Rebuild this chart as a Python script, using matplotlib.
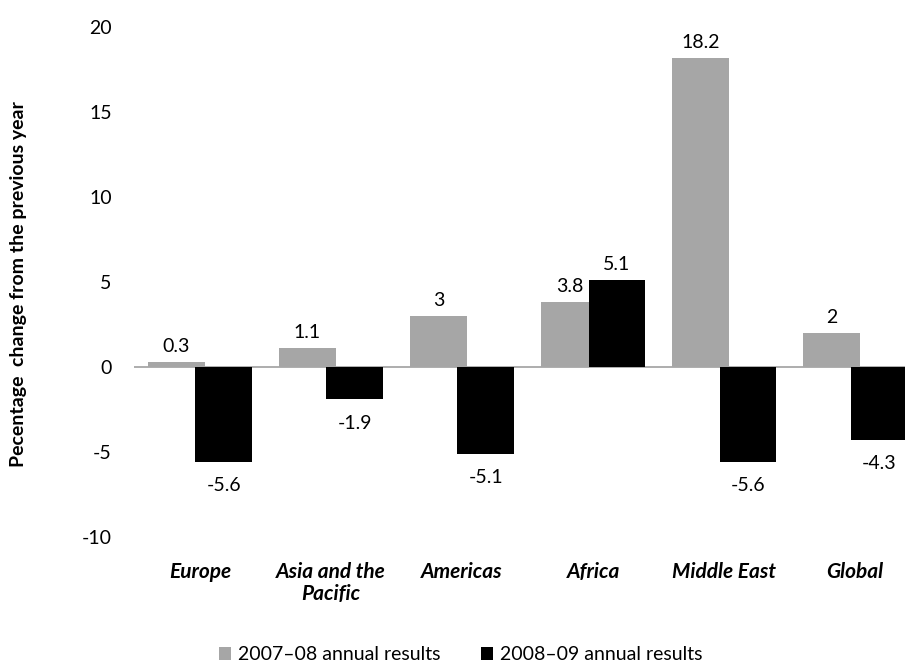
import matplotlib
matplotlib.use("Agg")
import matplotlib.pyplot as plt
from matplotlib.patches import Patch
import numpy as np

plt.rcParams['font.family'] = ['Lato', 'DejaVu Sans']

regions = ["Europe", "Asia and the\nPacific", "Americas", "Africa", "Middle East", "Global"]
series_names = ["2007\u201308 annual results", "2008\u201309 annual results"]
results_0708 = [0.3, 1.1, 3, 3.8, 18.2, 2]
results_0809 = [-5.6, -1.9, -5.1, 5.1, -5.6, -4.3]
value_labels_0708 = ["0.3", "1.1", "3", "3.8", "18.2", "2"]
value_labels_0809 = ["-5.6", "-1.9", "-5.1", "5.1", "-5.6", "-4.3"]
y_ticks = [-10, -5, 0, 5, 10, 15, 20]

grey = "#A6A6A6"
black = "#000000"

fig = plt.figure(figsize=(9.05, 6.62), dpi=100)
ax = fig.add_axes([0.148, 0.1888, 0.852, 0.7704])

x = np.arange(len(regions))
width = 0.43
offset = 0.18

bars1 = ax.bar(x - offset, results_0708, width, color=grey, zorder=2)
bars2 = ax.bar(x + offset, results_0809, width, color=black, zorder=3)

ax.axhline(0, color="#A0A0A0", lw=1.2, zorder=1)

def label(bars, texts):
    for b, t in zip(bars, texts):
        h = b.get_height()
        cx = b.get_x() + b.get_width() / 2
        if h >= 0:
            ax.annotate(t, (cx, h), xytext=(0, 5), textcoords="offset points",
                        ha="center", va="bottom", fontsize=14)
        else:
            ax.annotate(t, (cx, h), xytext=(0, -11), textcoords="offset points",
                        ha="center", va="top", fontsize=14)

label(bars1, value_labels_0708)
label(bars2, value_labels_0809)

ax.set_xlim(-0.504, 5.38)
ax.set_ylim(-10, 20)
ax.set_yticks(y_ticks)
ax.set_yticklabels([str(v) for v in y_ticks], fontsize=14)
ax.set_xticks(x)
ax.set_xticklabels(regions, fontsize=15, fontweight="bold", style="italic",
                   linespacing=1.15, va="top")
ax.tick_params(axis="y", length=0, pad=16)
ax.tick_params(axis="x", length=0, pad=18)
for s in ax.spines.values():
    s.set_visible(False)

fig.text(0.02, 0.571, "Pecentage  change from the previous year", rotation=90,
         fontsize=14, fontweight="bold", ha="center", va="center")

handles = [Patch(facecolor=grey), Patch(facecolor=black)]
fig.legend(handles, series_names, loc="center", bbox_to_anchor=(0.509, 0.011),
           ncol=2, frameon=False, fontsize=14, handlelength=0.6, handleheight=0.6,
           handletextpad=0.35, columnspacing=2.1)

fig.savefig("out.png", dpi=100)
